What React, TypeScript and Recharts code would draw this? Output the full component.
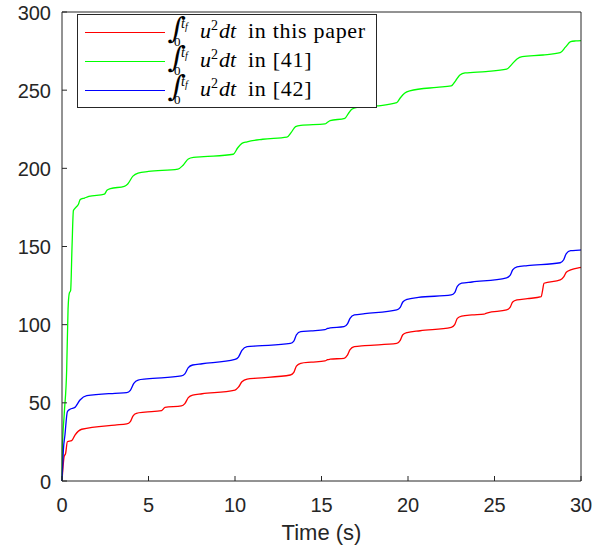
import React from 'react';
import { LineChart, Line, XAxis, YAxis, Legend } from 'recharts';

// Time samples (s) and accumulated control energy for each method
const paperTime = [0, 0.06, 0.12, 0.21, 0.31, 0.56, 0.75, 1.14, 3.06, 3.74, 3.95, 4.1, 4.3, 4.8, 5.76, 5.85, 5.95, 6.9, 7.1, 7.3, 7.55, 8.1, 10.0, 10.2, 10.4, 10.7, 11.3, 13.2, 13.4, 13.55, 13.8, 14.4, 15.2, 15.35, 15.5, 16.3, 16.5, 16.65, 16.9, 17.5, 19.35, 19.55, 19.7, 19.95, 20.7, 22.5, 22.7, 22.85, 23.1, 23.7, 24.4, 24.5, 24.6, 25.7, 25.9, 26.05, 26.3, 26.9, 27.7, 27.78, 27.86, 28.8, 29.0, 29.15, 29.4, 29.9, 30];
const paperCost = [0, 9, 15.5, 17.7, 25.1, 25.8, 29.4, 33.1, 35.8, 36.5, 38, 41.5, 43.3, 44, 45, 46, 47.1, 48, 49.5, 53.3, 55, 55.8, 58.2, 60, 63.5, 65.2, 65.8, 67.8, 69.5, 73.5, 75.3, 76, 76.8, 77.6, 77.9, 78.5, 80.5, 84, 85.9, 86.6, 88, 90, 93.5, 94.9, 96.1, 98.3, 100, 104, 105.5, 106.2, 106.7, 107.2, 107.6, 109.4, 111, 114.5, 115.8, 116.6, 117.9, 122, 126.5, 128.6, 130.5, 133.5, 135, 136.5, 136.7];

const ref41Time = [0, 0.02, 0.13, 0.27, 0.35, 0.42, 0.5, 0.58, 0.66, 0.8, 0.95, 1.05, 1.3, 1.55, 2.45, 2.6, 2.8, 3.6, 3.8, 4.1, 4.4, 5.0, 6.7, 7.0, 7.3, 7.6, 8.2, 9.9, 10.15, 10.4, 10.7, 11.6, 13.0, 13.25, 13.5, 13.8, 15.2, 15.35, 15.5, 16.35, 16.55, 16.75, 17.05, 18.2, 19.35, 19.55, 19.8, 20.1, 21.66, 22.5, 22.75, 23.0, 23.3, 24.5, 25.7, 26.0, 26.3, 26.6, 27.8, 28.8, 29.1, 29.4, 29.7, 30];
const ref41Cost = [0, 19.8, 43, 71, 110, 120, 122, 150, 173, 175, 177, 180, 181, 182, 183.5, 186, 187, 188.5, 190, 195, 197, 198, 199.5, 202, 206, 207, 207.5, 209, 213, 216, 217, 218.6, 219.9, 223, 226.7, 227.5, 228.4, 229.5, 230.5, 232, 235, 237.8, 239, 239.9, 242, 245, 248, 249.5, 251.8, 252.7, 256, 259.7, 261, 261.9, 263.4, 266.5, 270, 271.5, 272.5, 274, 277.5, 281, 281.5, 281.7];

const ref42Time = [0, 0.04, 0.08, 0.17, 0.31, 0.46, 0.75, 1.04, 1.43, 3.06, 3.74, 3.95, 4.15, 4.4, 4.9, 6.9, 7.1, 7.3, 7.55, 8.1, 10.0, 10.2, 10.4, 10.7, 11.3, 13.2, 13.4, 13.55, 13.8, 14.4, 15.2, 15.35, 15.5, 16.3, 16.5, 16.65, 16.9, 17.5, 19.35, 19.55, 19.7, 19.95, 20.6, 22.5, 22.7, 22.85, 23.1, 23.7, 25.7, 25.9, 26.05, 26.3, 26.9, 28.8, 29.0, 29.15, 29.4, 29.9, 30];
const ref42Cost = [0, 10, 19.8, 29.4, 44.3, 45.9, 47.1, 51.8, 54.6, 56.1, 56.5, 58, 62.5, 64.6, 65.3, 67.2, 68.5, 72.5, 74.2, 75, 77.8, 79.3, 83.5, 85.9, 86.4, 88, 89.5, 93.5, 95.5, 96, 96.8, 97.6, 97.9, 98.7, 100.5, 104, 106.2, 107, 109.4, 111, 114.5, 116.2, 117.4, 119, 120.5, 124.5, 126.5, 127.3, 130, 131.5, 135, 137, 137.8, 139.6, 141.5, 145.5, 147.3, 147.7, 147.8];

const xTicks = [0, 5, 10, 15, 20, 25, 30];
const yTicks = [0, 50, 100, 150, 200, 250, 300];

const seriesNames = ['this paper', '[41]', '[42]'];
const seriesColors = ['#ff0000', '#00ff00', '#0000ff'];

const toPoints = (ts: number[], vs: number[]) => ts.map((t, i) => ({ t, v: vs[i] }));

const paperData = toPoints(paperTime, paperCost);
const ref41Data = toPoints(ref41Time, ref41Cost);
const ref42Data = toPoints(ref42Time, ref42Cost);

const AXIS = '#262626';
const SANS = '"Liberation Sans", Arial, Helvetica, sans-serif';
const SERIF = '"Liberation Serif", "Times New Roman", serif';
const MATH = '"DejaVu Serif", serif';

const LeftTick = (p: any) => (
  <text x={p.x} y={p.y + 7.5} textAnchor="end" fill={AXIS} fontFamily={SANS} fontSize={20}>
    {p.payload.value}
  </text>
);

const BottomTick = (p: any) => (
  <text x={p.x} y={p.y + 31} textAnchor="middle" fill={AXIS} fontFamily={SANS} fontSize={20}>
    {p.payload.value}
  </text>
);

const NoLabel = () => <g />;

const TimeLabel = (p: any) => {
  const vb = p.viewBox;
  return (
    <text x={vb.x + vb.width / 2} y={vb.y + 59} textAnchor="middle" fill={AXIS} fontFamily={SANS} fontSize={22}>
      Time (s)
    </text>
  );
};

// Legend entry: ∫_0^{t_f} u^2 dt in <source>
const LegendBox = () => {
  const rows = seriesNames.map((name, i) => {
    const base = 24 + i * 29;
    return (
      <g key={name}>
        <line x1={8} y1={base - 5.5} x2={88} y2={base - 5.5} stroke={seriesColors[i]} strokeWidth={1.2} />
        <text x={91} y={base} fontFamily={MATH} fontSize={29} fill="#000" transform={`skewX(-8) translate(${base * 0.14} 0)`}>∫</text>
        <text x={104} y={base - 10} fontFamily={SERIF} fontSize={14} fontStyle="italic" fill="#000">
          t<tspan fontSize={10} dy={2}>f</tspan>
        </text>
        <text x={97} y={base + 8} fontFamily={SERIF} fontSize={13} fill="#000">0</text>
        <text x={123} y={base} fontFamily={SERIF} fontSize={22} fill="#000">
          <tspan fontStyle="italic">u</tspan>
          <tspan fontSize={14} dy={-8}>2</tspan>
          <tspan fontStyle="italic" dy={8} dx={1}>dt</tspan>
        </text>
        <text x={171} y={base} fontFamily={SERIF} fontSize={22} letterSpacing={0.7} fill="#000">
          in {name}
        </text>
      </g>
    );
  });
  return (
    <svg width={300} height={94} style={{ display: 'block' }}>
      <rect x={0.5} y={0.5} width={299} height={93} fill="#fff" stroke={AXIS} />
      {rows}
    </svg>
  );
};

export default function App() {
  return (
    <div style={{ position: 'absolute', left: 0, top: 0, width: 606, height: 551, background: '#fff' }}>
      <LineChart width={606} height={551} margin={{ top: 11, right: 24, bottom: 0, left: 0 }}>
        <XAxis
          dataKey="t"
          type="number"
          domain={[0, 30]}
          ticks={xTicks}
          height={70}
          tickSize={-5}
          tickMargin={5}
          stroke={AXIS}
          tick={BottomTick}
          label={<TimeLabel />}
        />
        <XAxis
          xAxisId="top"
          orientation="top"
          type="number"
          domain={[0, 30]}
          ticks={xTicks}
          height={1}
          tickSize={-5}
          stroke={AXIS}
          tick={NoLabel}
        />
        <YAxis
          type="number"
          domain={[0, 300]}
          ticks={yTicks}
          width={62}
          tickSize={-5}
          tickMargin={16}
          stroke={AXIS}
          tick={LeftTick}
        />
        <YAxis
          yAxisId="right"
          orientation="right"
          type="number"
          domain={[0, 300]}
          ticks={yTicks}
          width={1}
          tickSize={-5}
          stroke={AXIS}
          tick={NoLabel}
        />
        <Line data={paperData} dataKey="v" name={seriesNames[0]} type="monotone" stroke={seriesColors[0]} strokeWidth={1.3} dot={false} isAnimationActive={false} />
        <Line data={ref41Data} dataKey="v" name={seriesNames[1]} type="monotone" stroke={seriesColors[1]} strokeWidth={1.3} dot={false} isAnimationActive={false} />
        <Line data={ref42Data} dataKey="v" name={seriesNames[2]} type="monotone" stroke={seriesColors[2]} strokeWidth={1.3} dot={false} isAnimationActive={false} />
        <Legend
          layout="vertical"
          align="center"
          verticalAlign="middle"
          content={<LegendBox />}
          wrapperStyle={{ left: 77, top: 14, width: 300, height: 94 }}
        />
      </LineChart>
    </div>
  );
}
